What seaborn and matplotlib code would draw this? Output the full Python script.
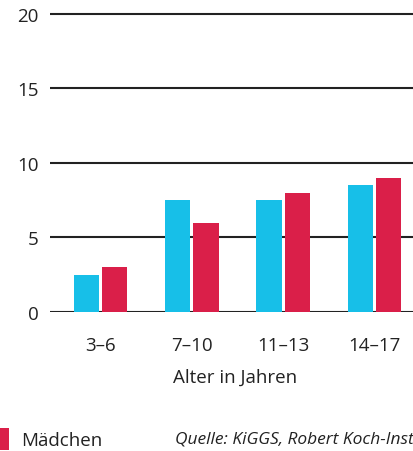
import pandas as pd
import matplotlib.pyplot as plt
import seaborn as sns

# data
age_groups = ["3–6", "7–10", "11–13", "14–17"]
boys = [2.5, 7.5, 7.5, 8.5]
girls = [3.0, 6.0, 8.0, 9.0]
series_names = ["Jungen", "Mädchen"]

df = pd.DataFrame({
    "Alter": age_groups * 2,
    "Wert": boys + girls,
    "Geschlecht": [series_names[0]] * 4 + [series_names[1]] * 4,
})

sns.set_theme(style="white")
plt.rcParams['font.family'] = ['Open Sans', 'DejaVu Sans']
text_col = "#222222"
fs = 13.5

fig = plt.figure(figsize=(4.14, 4.52), dpi=100)
ax = fig.add_axes([50 / 414, 0.3075, 370 / 414, 20.3 * 0.03297])

sns.barplot(
    data=df, x="Alter", y="Wert", hue="Geschlecht",
    palette=["#17BFE8", "#DA1F49"], width=0.615, gap=0.1,
    saturation=1, linewidth=0, ax=ax, zorder=3,
)

ax.set_ylim(0, 20.3)
ax.set_xlim(-0.555, 3.5)
ax.set_yticks([0, 5, 10, 15, 20])
ax.yaxis.grid(True, color=text_col, linewidth=1.5)
ax.set_axisbelow(True)
for s in ax.spines.values():
    s.set_visible(False)
ax.tick_params(axis="y", length=0, pad=8, labelsize=fs, labelcolor=text_col)
ax.tick_params(axis="x", length=0, pad=17, labelsize=fs, labelcolor=text_col)
ax.set_ylabel("")
ax.set_xlabel("Alter in Jahren", fontsize=fs, color=text_col, labelpad=10)

# legend is partly cut at the left edge, like in the original crop
sns.move_legend(
    ax, "lower left", bbox_to_anchor=(-0.29, 0.003), bbox_transform=fig.transFigure,
    ncol=2, frameon=False, title=None, fontsize=fs, handlelength=0.5,
    handleheight=1.4, handletextpad=0.65, columnspacing=2.0, borderaxespad=0,
    borderpad=0,
)
for t in ax.get_legend().get_texts():
    t.set_color(text_col)

fig.text(175 / 414, 0.009, "Quelle: KiGGS, Robert Koch-Institut", fontsize=12.5,
         style="italic", color=text_col, ha="left", va="bottom")

fig.savefig("out.png", dpi=100)
